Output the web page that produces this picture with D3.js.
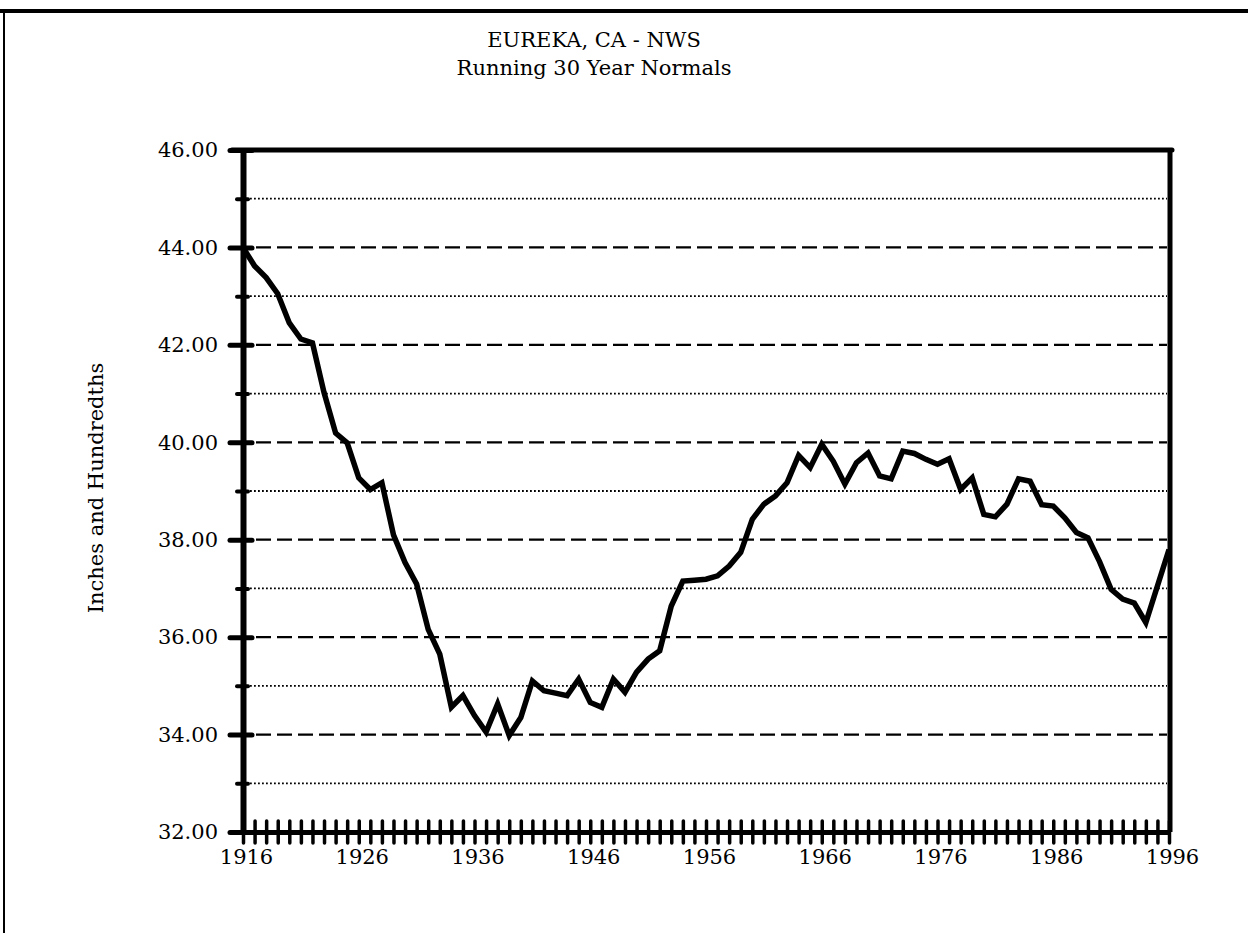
<!DOCTYPE html>
<html>
<head>
<meta charset="utf-8">
<script src="https://cdn.jsdelivr.net/npm/d3@7"></script>
<style>
	body { margin: 0; background: #fff; }
	text { font-family: "DejaVu Serif", "Liberation Serif", serif; fill: #000; }
</style>
</head>
<body>
<svg id="chart" width="1248" height="933"></svg>
<script>
// running 30 year normal, one value per year
var years = d3.range(1916, 1997);
var normals = [
	44.00, 43.62, 43.38, 43.05, 42.45, 42.12, 42.04, 41.02, 40.19, 39.99,
	39.27, 39.03, 39.17, 38.10, 37.53, 37.09, 36.16, 35.65, 34.56, 34.80,
	34.39, 34.05, 34.63, 33.98, 34.35, 35.10, 34.90, 34.85, 34.80, 35.14,
	34.66, 34.56, 35.14, 34.87, 35.28, 35.55, 35.72, 36.64, 37.15, 37.17,
	37.19, 37.26, 37.46, 37.74, 38.42, 38.73, 38.90, 39.17, 39.73, 39.48,
	39.96, 39.61, 39.14, 39.58, 39.78, 39.31, 39.25, 39.82, 39.77, 39.65,
	39.55, 39.66, 39.03, 39.27, 38.52, 38.47, 38.73, 39.25, 39.20, 38.72,
	38.69, 38.45, 38.15, 38.04, 37.55, 36.98, 36.78, 36.70, 36.30, 37.05,
	37.80
];
var yMajor = [32, 34, 36, 38, 40, 42, 44, 46];
var yMinor = [33, 35, 37, 39, 41, 43, 45];
var xLabels = [1916, 1926, 1936, 1946, 1956, 1966, 1976, 1986, 1996];
var titleLines = ["EUREKA, CA - NWS", "Running 30 Year Normals"];

var svg = d3.select("#chart");

var x = d3.scaleLinear().domain([1916, 1996]).range([243, 1169]);
var y = d3.scaleLinear().domain([32, 46]).range([832, 150]);

// page frame
svg.append("line")
	.attr("x1", 0).attr("x2", 1248).attr("y1", 11).attr("y2", 11)
	.attr("stroke", "#000").attr("stroke-width", 4);
svg.append("line")
	.attr("x1", 4).attr("x2", 4).attr("y1", 10).attr("y2", 933)
	.attr("stroke", "#000").attr("stroke-width", 2);

// titles
svg.selectAll(".title")
	.data(titleLines)
	.enter().append("text")
	.attr("class", "title")
	.attr("x", 594)
	.attr("y", function(d, i) { return 47 + i * 28; })
	.attr("text-anchor", "middle")
	.style("font-size", "21px")
	.text(function(d) { return d; });

// y axis title
svg.append("text")
	.attr("transform", "translate(103,488) rotate(-90)")
	.attr("text-anchor", "middle")
	.style("font-size", "21px")
	.text("Inches and Hundredths");

// grid: dotted on odd values, dashed on even
svg.append("g")
	.selectAll("line")
	.data(yMinor)
	.enter().append("line")
	.attr("x1", 250).attr("x2", 1167)
	.attr("y1", function(d) { return y(d); })
	.attr("y2", function(d) { return y(d); })
	.attr("stroke", "#000")
	.attr("stroke-width", 1.8)
	.attr("stroke-dasharray", "1.8,2.2");

svg.append("g")
	.selectAll("line")
	.data(yMajor.filter(function(d) { return d > 32 && d < 46; }))
	.enter().append("line")
	.attr("x1", 256).attr("x2", 1167)
	.attr("y1", function(d) { return y(d); })
	.attr("y2", function(d) { return y(d); })
	.attr("stroke", "#000")
	.attr("stroke-width", 2.2)
	.attr("stroke-dasharray", "15,6");

// data line
var line = d3.line()
	.x(function(d, i) { return x(years[i]); })
	.y(function(d) { return y(d); });

svg.append("path")
	.datum(normals)
	.attr("d", line)
	.attr("fill", "none")
	.attr("stroke", "#000")
	.attr("stroke-width", 5.5)
	.attr("stroke-linejoin", "miter");

// plot border: top and right
svg.append("line")
	.attr("x1", 232).attr("x2", 1172).attr("y1", y(46)).attr("y2", y(46))
	.attr("stroke", "#000").attr("stroke-width", 5).attr("stroke-linecap", "round");
svg.append("line")
	.attr("x1", 1170).attr("x2", 1170).attr("y1", y(46)).attr("y2", y(32))
	.attr("stroke", "#000").attr("stroke-width", 5);

// x axis, one tick per year
var xAxis = d3.axisBottom(x)
	.tickValues(years)
	.tickSize(11)
	.tickSizeOuter(0)
	.tickPadding(6)
	.tickFormat(function(d) { return xLabels.indexOf(d) >= 0 ? d : ""; });

var gx = svg.append("g")
	.attr("transform", "translate(0," + y(32) + ")")
	.call(xAxis);
gx.select(".domain").attr("stroke-width", 5);
gx.selectAll(".tick line")
	.attr("y1", -11)
	.attr("stroke-width", 3.5)
	.attr("stroke-linecap", "round");
gx.selectAll(".tick text")
	.attr("dx", 3)
	.style("font-size", "21px")
	.style("font-family", "\"DejaVu Serif\", serif");

// y axis, labelled ticks every 2 inches
var yAxis = d3.axisLeft(y)
	.tickValues(yMajor)
	.tickSize(13)
	.tickSizeOuter(0)
	.tickPadding(12)
	.tickFormat(d3.format(".2f"));

var gy = svg.append("g")
	.attr("transform", "translate(243,0)")
	.call(yAxis);
gy.select(".domain").attr("stroke-width", 6);
gy.selectAll(".tick line")
	.attr("x1", 9)
	.attr("stroke-width", 5)
	.attr("stroke-linecap", "round");
gy.selectAll(".tick text")
	.style("font-size", "21px")
	.style("font-family", "\"DejaVu Serif\", serif");

// minor y ticks
var gyMinor = svg.append("g")
	.attr("transform", "translate(243,0)")
	.call(d3.axisLeft(y).tickValues(yMinor).tickSize(6).tickSizeOuter(0).tickFormat(""));
gyMinor.select(".domain").remove();
gyMinor.selectAll(".tick line")
	.attr("x1", 5)
	.attr("stroke-width", 4)
	.attr("stroke-linecap", "round");
</script>
</body>
</html>
